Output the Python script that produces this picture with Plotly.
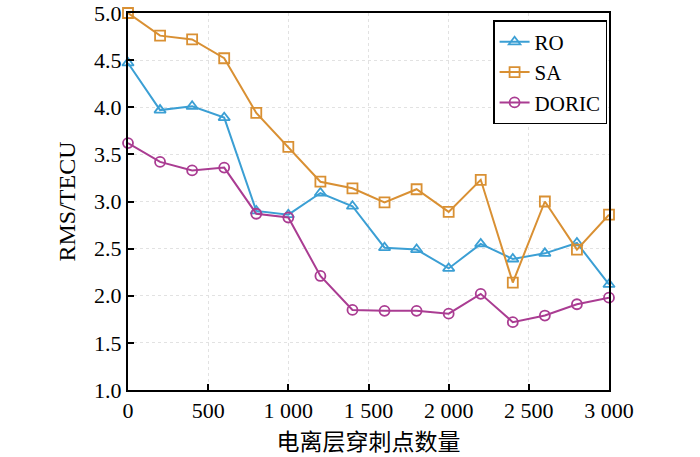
import plotly.graph_objects as go

x_vals = [0, 200, 400, 600, 800, 1000, 1200, 1400, 1600, 1800, 2000, 2200, 2400, 2600, 2800, 3000]
ro = [4.47, 3.97, 4.01, 3.89, 2.90, 2.86, 3.09, 2.95, 2.51, 2.49, 2.29, 2.55, 2.39, 2.45, 2.56, 2.12]
sa = [5.00, 4.76, 4.72, 4.52, 3.94, 3.58, 3.21, 3.14, 2.99, 3.13, 2.89, 3.23, 2.14, 3.00, 2.49, 2.86]
doric = [3.62, 3.42, 3.33, 3.36, 2.87, 2.83, 2.21, 1.85, 1.84, 1.84, 1.81, 2.02, 1.72, 1.79, 1.91, 1.98]

x_ticks = [0, 500, 1000, 1500, 2000, 2500, 3000]
x_tick_labels = ["0", "500", "1 000", "1 500", "2 000", "2 500", "3 000"]
y_ticks = [1.0, 1.5, 2.0, 2.5, 3.0, 3.5, 4.0, 4.5, 5.0]
y_tick_labels = ["1.0", "1.5", "2.0", "2.5", "3.0", "3.5", "4.0", "4.5", "5.0"]

series = [
    ("RO", ro, "#3b9fd4", "triangle-up-open"),
    ("SA", sa, "#d99033", "square-open"),
    ("DORIC", doric, "#aa3c92", "circle-open"),
]

fig = go.Figure()
for name, vals, color, sym in series:
    fig.add_trace(go.Scatter(
        x=x_vals, y=vals, name=name, mode="lines+markers",
        line=dict(color=color, width=2),
        marker=dict(symbol=sym, size=10, color=color, line=dict(width=1.8, color=color)),
        cliponaxis=False,
    ))

font_family = "Liberation Serif, Times New Roman, Noto Sans CJK SC, serif"

fig.update_layout(
    width=700, height=457,
    margin=dict(l=128, r=91, t=13, b=67),
    paper_bgcolor="white", plot_bgcolor="white",
    font=dict(family=font_family, size=22, color="black"),
    showlegend=True,
    legend=dict(
        x=0.996, y=0.981, xanchor="right", yanchor="top",
        bordercolor="black", borderwidth=1.5, bgcolor="white",
        font=dict(size=21), tracegroupgap=0, itemwidth=30,
    ),
    xaxis=dict(
        range=[0, 3000], tickvals=x_ticks, ticktext=x_tick_labels,
        showline=True, linecolor="black", linewidth=2, mirror=True,
        ticks="inside", ticklen=6, tickwidth=1.5, tickcolor="black",
        showgrid=True, gridcolor="#e2e2e2", gridwidth=1, griddash="dot",
        zeroline=False, automargin=False, ticklabeloverflow="allow",
        title=dict(text="电离层穿刺点数量", font=dict(size=23, family="Noto Sans CJK SC, serif"), standoff=4),
    ),
    yaxis=dict(
        range=[1.0, 5.0], tickvals=y_ticks, ticktext=y_tick_labels,
        showline=True, linecolor="black", linewidth=2, mirror=True,
        ticks="inside", ticklen=6, tickwidth=1.5, tickcolor="black",
        showgrid=True, gridcolor="#e2e2e2", gridwidth=1, griddash="dot",
        zeroline=False, automargin=False, ticklabeloverflow="allow",
        title=dict(text="RMS/TECU", font=dict(size=24), standoff=12),
    ),
)

fig.write_html(
    "out.html",
    config={"displayModeBar": False},
    post_script="document.body.style.margin='0';document.body.style.overflow='hidden';",
)
